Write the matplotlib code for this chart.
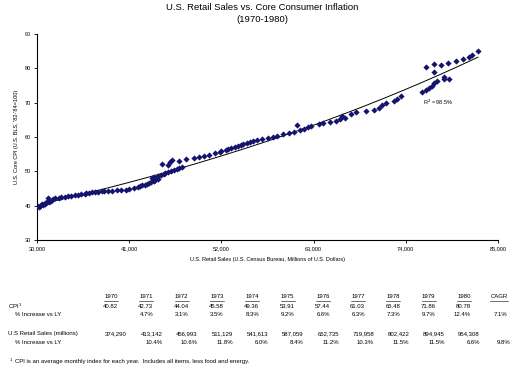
import numpy as np
import matplotlib

matplotlib.use('Agg')
import matplotlib.pyplot as plt
from matplotlib.lines import Line2D

plt.rcParams['font.family'] = ['Liberation Sans', 'DejaVu Sans']

# monthly points 1970-1980
retail_sales = [
    30200, 30350, 30300, 30500, 30700, 30600, 30900, 31000, 31200, 31400, 31300, 31700,
    31300, 31900, 32200, 32600, 32900, 33300, 33700, 34100, 34500, 34900, 35300, 35700,
    35800, 36200, 36600, 36900, 37300, 37700, 38000, 38500, 39000, 39500, 40000, 40600,
    41000, 41600, 42000, 42300, 42500, 42900, 43100, 43400, 43600, 43900, 44100, 44400,
    43700, 44000, 44400, 44800, 45100, 45300, 45600, 46000, 46300, 46700, 47000, 47300,
    45600, 44900, 45900, 47000, 46100, 47800, 48700, 49300, 49900, 50500, 51200, 51800,
    52000, 52500, 52800, 53200, 53600, 54000, 54300, 54600, 55000, 55400, 55800, 56300,
    56900, 57500, 58100, 58600, 59300, 60100, 61000, 60700, 61400, 61900, 62300, 62700,
    63600, 64100, 65000, 65700, 66100, 66700, 66400, 67500, 68100, 69300, 70200, 70800,
    71200, 71600, 72600, 73000, 73400, 75900, 76400, 76800, 77100, 77400, 77700, 78500,
    79200, 78600, 77400, 76400, 77400, 78200, 79000, 80000, 80800, 81500, 81900, 82600,
]
core_cpi = [
    39.6, 39.8, 40.0, 40.2, 40.3, 40.5, 40.6, 40.8, 41.0, 41.1, 41.3, 41.4,
    42.3, 41.9, 42.1, 42.3, 42.5, 42.6, 42.8, 42.9, 43.0, 43.1, 43.3, 43.5,
    43.7, 43.8, 43.9, 44.0, 44.1, 44.2, 44.2, 44.3, 44.4, 44.5, 44.5, 44.7,
    44.9, 45.1, 45.4, 45.6, 45.9, 46.1, 46.4, 46.7, 46.9, 47.2, 47.5, 47.8,
    48.0, 48.3, 48.6, 48.9, 49.2, 49.5, 49.8, 50.1, 50.4, 50.6, 50.9, 51.2,
    51.8, 52.2, 52.7, 53.0, 53.3, 53.6, 54.0, 54.3, 54.6, 54.9, 55.2, 55.6,
    55.9, 56.2, 56.5, 56.8, 57.1, 57.4, 57.6, 57.9, 58.2, 58.5, 58.7, 59.0,
    59.3, 59.6, 60.0, 60.4, 60.8, 61.2, 63.5, 61.6, 62.0, 62.4, 62.8, 63.2,
    63.8, 64.2, 64.5, 64.8, 65.1, 65.5, 66.2, 66.7, 67.2, 67.6, 68.0, 68.4,
    69.2, 69.8, 70.5, 71.2, 72.0, 73.1, 73.6, 74.3, 74.9, 75.7, 76.3, 77.0,
    76.9, 77.6, 79.0, 80.4, 81.3, 81.0, 81.6, 82.2, 82.8, 83.4, 84.0, 85.0,
]
x_ticks = [30000, 41000, 52000, 63000, 74000, 85000]
y_ticks = [30, 40, 50, 60, 70, 80, 90]

# table below the chart
years = ['1970', '1971', '1972', '1973', '1974', '1975', '1976', '1977', '1978', '1979', '1980']
cpi_vals = ['40.82', '42.73', '44.04', '45.58', '49.36', '53.91', '57.44', '61.03', '65.48', '71.86', '80.78']
cpi_pct = ['', '4.7%', '3.1%', '3.5%', '8.3%', '9.2%', '6.6%', '6.3%', '7.3%', '9.7%', '12.4%']
sales_vals = ['374,290', '413,142', '456,993', '511,129', '541,613', '587,059', '652,735',
              '719,958', '802,422', '894,945', '954,308']
sales_pct = ['', '10.4%', '10.6%', '11.8%', '6.0%', '8.4%', '11.2%', '10.3%', '11.5%', '11.5%', '6.6%']
cpi_cagr = '7.1%'
sales_cagr = '9.8%'

W, H = 524, 384
fig = plt.figure(figsize=(W / 100, H / 100), dpi=100)
ax = fig.add_axes([37 / W, 1 - 240 / H, (498 - 37) / W, (240 - 34) / H])

navy = '#14146e'
ax.scatter(retail_sales, core_cpi, marker='D', s=10, color=navy, linewidths=0, zorder=3)

# exponential trendline
xs = np.array(retail_sales, dtype=float)
ys = np.array(core_cpi, dtype=float)
b, lna = np.polyfit(xs, np.log(ys), 1)
xx = np.linspace(xs.min(), xs.max(), 200)
ax.plot(xx, np.exp(lna) * np.exp(b * xx), color='black', lw=0.7, zorder=2)
ax.text(76000, 70, 'R$^2$ = 98.5%', fontsize=4, ha='left', va='center')

ax.set_xlim(30000, 85000)
ax.set_ylim(30, 90)
ax.set_xticks(x_ticks)
ax.set_xticklabels([f'{v:,}' for v in x_ticks])
ax.set_yticks(y_ticks)
ax.tick_params(axis='both', labelsize=4, length=2.5, width=0.6, pad=2)
ax.spines['top'].set_visible(False)
ax.spines['right'].set_visible(False)
ax.spines['left'].set_linewidth(0.8)
ax.spines['bottom'].set_linewidth(0.8)
ax.set_xlabel('U.S. Retail Sales (U.S. Census Bureau, Millions of U.S. Dollars)', fontsize=4, labelpad=4)
ax.set_ylabel("U.S. Core CPI (U.S. BLS, '82-'84=100)", fontsize=4, labelpad=4)

fig.text(262 / W, 1 - 8 / H, 'U.S. Retail Sales vs. Core Consumer Inflation', fontsize=6.8,
         ha='center', va='center')
fig.text(262 / W, 1 - 20 / H, '(1970-1980)', fontsize=6.8, ha='center', va='center')


def px(x, y):
    return x / W, 1 - y / H


fs = 4.3
centers = [111 + 35.3 * i for i in range(len(years))]
cagr_x = 111 + 35.3 * len(years)

for c, yr in zip(centers, years):
    fig.text(*px(c, 297), yr, fontsize=fs, ha='center', va='center')
    fig.add_artist(Line2D([(c - 7) / W, (c + 7) / W], [1 - 301 / H] * 2, color='black', lw=0.4))
fig.text(*px(cagr_x, 297), 'CAGR', fontsize=fs, ha='center', va='center')
fig.add_artist(Line2D([(cagr_x - 9) / W, (cagr_x + 9) / W], [1 - 301 / H] * 2, color='black', lw=0.4))

fig.text(*px(8, 306), 'CPI$^1$', fontsize=fs, ha='left', va='center')
fig.text(*px(15, 315), '% Increase vs LY', fontsize=fs, ha='left', va='center')
fig.text(*px(8, 334), 'U.S Retail Sales (millions)', fontsize=fs, ha='left', va='center')
fig.text(*px(15, 343), '% Increase vs LY', fontsize=fs, ha='left', va='center')

for c, v, p in zip(centers, cpi_vals, cpi_pct):
    fig.text(*px(c + 7, 306), v, fontsize=fs, ha='right', va='center')
    fig.text(*px(c + 7, 315), p, fontsize=fs, ha='right', va='center')
fig.text(*px(cagr_x + 8, 315), cpi_cagr, fontsize=fs, ha='right', va='center')

for c, v, p in zip(centers, sales_vals, sales_pct):
    fig.text(*px(c + 16, 334), v, fontsize=fs, ha='right', va='center')
    fig.text(*px(c + 16, 343), p, fontsize=fs, ha='right', va='center')
fig.text(*px(cagr_x + 11, 343), sales_cagr, fontsize=fs, ha='right', va='center')

fig.text(*px(10, 360), '1', fontsize=3, ha='left', va='center')
fig.text(*px(15, 362), 'CPI is an average monthly index for each year.  Includes all items, less food and energy.',
         fontsize=fs, ha='left', va='center')

fig.savefig('out.png', dpi=100)
